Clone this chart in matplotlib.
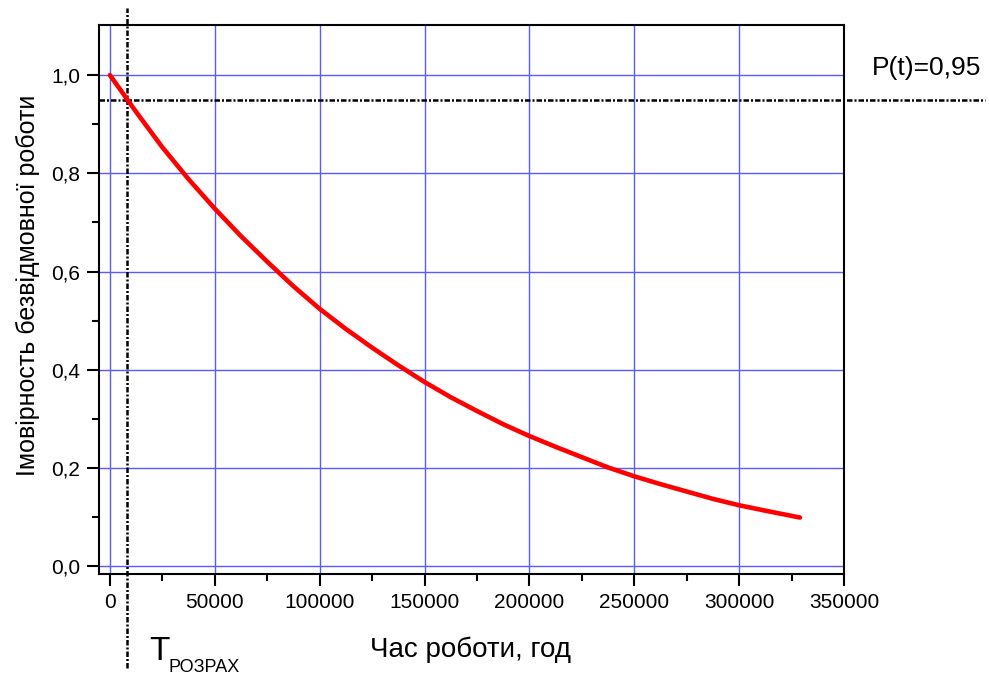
import numpy as np
import matplotlib
matplotlib.use("Agg")
import matplotlib.pyplot as plt

plt.rcParams['font.family'] = ['Liberation Sans', 'DejaVu Sans']

# дані
t_hours = [0, 12500, 25000, 37500, 50000, 62500, 75000, 87500,
           100000, 112500, 125000, 137500, 150000, 162500, 175000, 187500,
           200000, 212500, 225000, 237500, 250000, 262500, 275000, 287500, 300000,
           312500, 329000]
p_values = [1.0, 0.925, 0.853, 0.788, 0.728, 0.672, 0.62, 0.570,
            0.524, 0.483, 0.445, 0.409, 0.375, 0.344, 0.316, 0.289,
            0.265, 0.243, 0.222, 0.201, 0.183, 0.167, 0.152, 0.137, 0.124,
            0.113, 0.099]
x_ticks = [0, 50000, 100000, 150000, 200000, 250000, 300000, 350000]
x_minor = [25000, 75000, 125000, 175000, 225000, 275000, 325000]
y_ticks = [0.0, 0.2, 0.4, 0.6, 0.8, 1.0]
y_minor = [0.1, 0.3, 0.5, 0.7, 0.9]
y_tick_labels = ["0,0", "0,2", "0,4", "0,6", "0,8", "1,0"]
t_rozrakh = 8100
p_level = 0.95

fig = plt.figure(figsize=(9.89, 6.75), dpi=100)
ax = fig.add_axes([0.1001, 0.1496, 0.7533, 0.8134])

ax.plot(t_hours, p_values, color="red", lw=3.3, solid_capstyle="round",
        solid_joinstyle="round", zorder=3)

ax.set_xlim(-5200, 350000)
ax.set_ylim(-0.016, 1.102)
ax.set_xticks(x_ticks)
ax.set_xticks(x_minor, minor=True)
ax.set_xticklabels([str(v) for v in x_ticks])
ax.set_yticks(y_ticks)
ax.set_yticks(y_minor, minor=True)
ax.set_yticklabels(y_tick_labels)
ax.tick_params(which="major", direction="out", length=8.5, width=1.5, labelsize=15, pad=5)
ax.tick_params(which="minor", direction="out", length=5, width=1.5)
for s in ax.spines.values():
    s.set_linewidth(1.5)

ax.grid(True, which="major", color="#5a5aff", lw=1.0, zorder=1)

# рівень P(t)=0,95 та розрахунковий час
dd = (0, (2.2, 0.8, 0.8, 0.8))
ax.axhline(p_level, xmin=0, xmax=1.189, color="black", lw=1.8, ls=dd, clip_on=False, zorder=2)
ax.axvline(t_rozrakh, ymin=-0.171, ymax=1.031, color="black", lw=1.8, ls=dd, clip_on=False, zorder=2)

fig.text(471 / 989, 1 - 657 / 675, "Час роботи, год", fontsize=20, ha="center", va="baseline")
fig.text(28 / 989, 1 - 285 / 675, "Імовірность безвідмовної роботи", fontsize=18,
         rotation=90, ha="center", va="center")
fig.text(872 / 989, 1 - 68 / 675, "P(t)=0,95", fontsize=19, ha="left", va="center")
fig.text(149 / 989, 1 - 660 / 675, "T", fontsize=24, ha="left", va="baseline")
fig.text(168 / 989, 1 - 672 / 675, "РОЗРАХ", fontsize=13, ha="left", va="baseline")

fig.savefig("out.png", dpi=100)
